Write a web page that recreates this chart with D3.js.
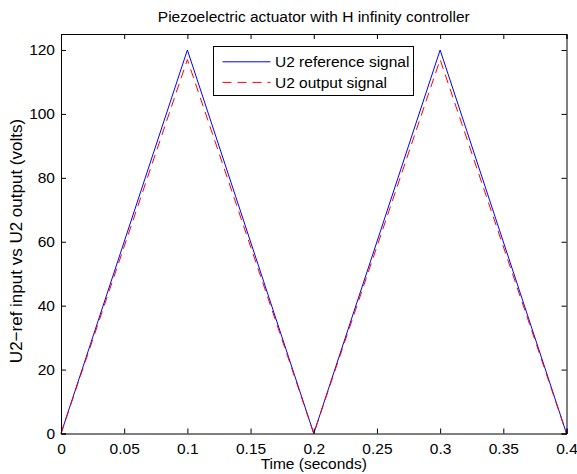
<!DOCTYPE html>
<html>
<head>
<meta charset="utf-8">
<script src="https://cdn.jsdelivr.net/npm/d3@7"></script>
<style>
  body { margin: 0; background: #fff; }
  svg text { font-family: "Liberation Sans", Arial, sans-serif; fill: #000; }
</style>
</head>
<body>
<div id="chart"></div>
<script>
// time points (seconds) and signals (volts)
let timePts = [0, 0.1, 0.2, 0.3, 0.4];
let refSignal = [0, 120, 0, 120, 0];
let outSignal = [0, 117, 0, 117, 0];
let xTicks = [0, 0.05, 0.1, 0.15, 0.2, 0.25, 0.3, 0.35, 0.4];
let yTicks = [0, 20, 40, 60, 80, 100, 120];

let W = 577, H = 474;
let margin = { top: 34, right: 10, bottom: 41, left: 61 };
let width = 566.5 - margin.left;
let height = 433.5 - margin.top;
let fs = "15.5px";
let dash = "9,6";

let svg = d3.select("#chart").append("svg")
    .attr("width", W)
    .attr("height", H);

let g = svg.append("g")
    .attr("transform", `translate(${margin.left},${margin.top})`);

let x = d3.scaleLinear().domain([0, 0.4]).range([0, width]);
let y = d3.scaleLinear().domain([0, 125]).range([height, 0]);

let fmtX = d => d === 0 ? "0" : String(+d.toFixed(2));

// lines
let line = d3.line()
    .x((d, i) => x(timePts[i]))
    .y(d => y(d));

g.append("path")
    .datum(refSignal)
    .attr("fill", "none")
    .attr("stroke", "#0000ff")
    .attr("stroke-width", 1)
    .attr("d", line);

g.append("path")
    .datum(outSignal)
    .attr("fill", "none")
    .attr("stroke", "#ff0000")
    .attr("stroke-width", 1)
    .attr("stroke-dasharray", dash)
    .attr("d", line);

// axes, MATLAB style: ticks inside on all 4 sides
g.append("g")
    .attr("transform", `translate(0,${height})`)
    .call(d3.axisBottom(x).tickValues(xTicks).tickSize(-5).tickPadding(9).tickFormat(fmtX));
g.append("g")
    .call(d3.axisTop(x).tickValues(xTicks).tickSize(-5).tickFormat(""));
g.append("g")
    .call(d3.axisLeft(y).tickValues(yTicks).tickSize(-5).tickPadding(6));
g.append("g")
    .attr("transform", `translate(${width},0)`)
    .call(d3.axisRight(y).tickValues(yTicks).tickSize(-5).tickFormat(""));

g.selectAll(".domain").attr("stroke", "black").attr("stroke-width", 1);
g.selectAll(".tick line").attr("stroke", "black");
g.selectAll(".tick text")
    .style("font-size", fs)
    .style("font-family", "'Liberation Sans', Arial, sans-serif");

// title and labels
svg.append("text")
    .attr("x", margin.left + width / 2)
    .attr("y", 22)
    .attr("text-anchor", "middle")
    .style("font-size", fs)
    .text("Piezoelectric actuator with H infinity controller");

svg.append("text")
    .attr("x", margin.left + width / 2)
    .attr("y", 469)
    .attr("text-anchor", "middle")
    .style("font-size", fs)
    .text("Time (seconds)");

svg.append("text")
    .attr("transform", "translate(22,241) rotate(-90)")
    .attr("text-anchor", "middle")
    .style("font-size", "17px")
    .text("U2\u2212ref input vs U2 output (volts)");

// legend
let legend = svg.append("g").attr("transform", "translate(213.5,46.5)");
legend.append("rect")
    .attr("width", 200)
    .attr("height", 49)
    .attr("fill", "white")
    .attr("stroke", "black")
    .attr("stroke-width", 1);

let legendItems = [
    { label: "U2 reference signal", color: "#0000ff", dash: null },
    { label: "U2 output signal", color: "#ff0000", dash: dash }
];
legendItems.forEach((d, i) => {
    let yy = 15.3 + i * 20.6;
    legend.append("line")
        .attr("x1", 9).attr("x2", 57)
        .attr("y1", yy).attr("y2", yy)
        .attr("stroke", d.color)
        .attr("stroke-width", 1)
        .attr("stroke-dasharray", d.dash);
    legend.append("text")
        .attr("x", 61.5)
        .attr("y", yy + 5.5)
        .style("font-size", fs)
        .text(d.label);
});
</script>
</body>
</html>
